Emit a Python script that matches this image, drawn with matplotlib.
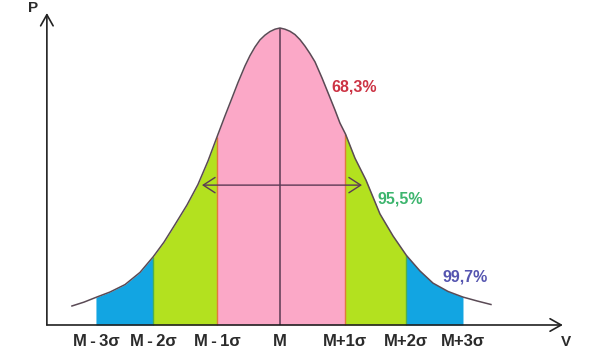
import numpy as np
import matplotlib
matplotlib.use("Agg")
import matplotlib.pyplot as plt

plt.rcParams['font.family'] = ['Liberation Sans', 'DejaVu Sans']

# curve: x in sigma units from the mean, height relative to the peak
curve_s = [-3.302, -3.111, -2.921, -2.698, -2.460, -2.222, -2.011, -1.841, -1.667, -1.476,
           -1.302, -1.143, -1.000, -0.873, -0.762, -0.667, -0.556, -0.476, -0.397, -0.317,
           -0.238, -0.159, -0.079, 0.0, 0.079, 0.159, 0.238, 0.317, 0.397, 0.476,
           0.556, 0.667, 0.778, 0.873, 0.952, 1.040, 1.190, 1.365, 1.587, 1.794,
           2.008, 2.222, 2.429, 2.667, 2.905, 3.127, 3.349]
curve_h = [0.064, 0.077, 0.093, 0.111, 0.136, 0.177, 0.230, 0.279, 0.338, 0.404,
           0.473, 0.552, 0.633, 0.704, 0.764, 0.816, 0.872, 0.907, 0.936, 0.960,
           0.976, 0.988, 0.996, 1.000, 0.996, 0.989, 0.978, 0.961, 0.939, 0.914,
           0.886, 0.832, 0.774, 0.724, 0.680, 0.643, 0.562, 0.488, 0.374, 0.300,
           0.234, 0.182, 0.141, 0.113, 0.094, 0.081, 0.069]

tick_pos = [-2.921, -2.011, -1.000, 0.0, 1.040, 2.008, 2.905]
tick_labels = ["M\u2009-\u20093\u03c3", "M\u2009-\u20092\u03c3", "M\u2009-\u20091\u03c3", "M",
               "M+1\u03c3", "M+2\u03c3", "M+3\u03c3"]

pct_labels = ["68,3%", "95,5%", "99,7%"]
pct_colors = ["#cc3344", "#3db56e", "#5555b0"]
pct_pos = [(1.175, 0.801), (1.913, 0.424), (2.937, 0.160)]

pink = "#fba8c7"
lime = "#b3e11f"
blue = "#12a5e2"

s = np.array(curve_s)
h = np.array(curve_h)

fig = plt.figure(figsize=(5.91, 3.56), dpi=100)
ax = fig.add_axes([0, 0, 1, 1])
ax.set_xlim(-4.444, 4.937)
ax.set_ylim(-0.1044, 1.0943)
ax.axis('off')

e = tick_pos
ax.fill_between(s, h, where=(s >= e[0]) & (s <= e[1]), color=blue, lw=0)
ax.fill_between(s, h, where=(s >= e[5]) & (s <= e[6]), color=blue, lw=0)
ax.fill_between(s, h, where=(s >= e[1]) & (s <= e[2]), color=lime, lw=0)
ax.fill_between(s, h, where=(s >= e[4]) & (s <= e[5]), color=lime, lw=0)
ax.fill_between(s, h, where=(s >= e[2]) & (s <= e[4]), color=pink, lw=0)

# band borders
for x0, c in [(e[1], "#4caf50"), (e[5], "#4caf50"), (e[2], "#e07a3c"), (e[4], "#e07a3c")]:
    ax.vlines(x0, 0, h[s == x0][0], color=c, lw=1.0)
ax.vlines(0, 0, h.max(), color="#5a3a52", lw=1.1)

ax.plot(s, h, color="#5a4a55", lw=1.1)

# axes with open arrow heads
ax.annotate("", xy=(-3.70, 1.0505), xytext=(-3.70, 0), annotation_clip=False,
            arrowprops=dict(arrowstyle="->,head_length=0.8,head_width=0.45",
                            color="#222222", lw=1.2, shrinkA=0, shrinkB=0))
ax.annotate("", xy=(4.49, 0), xytext=(-3.70, 0), annotation_clip=False,
            arrowprops=dict(arrowstyle="->,head_length=0.8,head_width=0.45",
                            color="#222222", lw=1.2, shrinkA=0, shrinkB=0))

# double arrow across the one-sigma band
ax.annotate("", xy=(-1.238, 0.471), xytext=(1.302, 0.471),
            arrowprops=dict(arrowstyle="<->,head_length=0.85,head_width=0.55",
                            color="#5c3a55", lw=1.0, shrinkA=0, shrinkB=0))

for x0, lab in zip(tick_pos, tick_labels):
    ax.text(x0, -0.0572, lab, ha='center', va='center', fontsize=12,
            fontweight='bold', color="#2b2b2b")

for (x0, y0), lab, c in zip(pct_pos, pct_labels, pct_colors):
    ax.text(x0, y0, lab, ha='center', va='center', fontsize=11.5,
            fontweight='bold', color=c)

ax.text(-3.913, 1.067, "P", ha='center', va='center', fontsize=11,
        fontweight='bold', color="#2b2b2b")
ax.text(4.540, -0.0572, "V", ha='center', va='center', fontsize=11,
        fontweight='bold', color="#2b2b2b")

fig.savefig("out.png", dpi=100)
